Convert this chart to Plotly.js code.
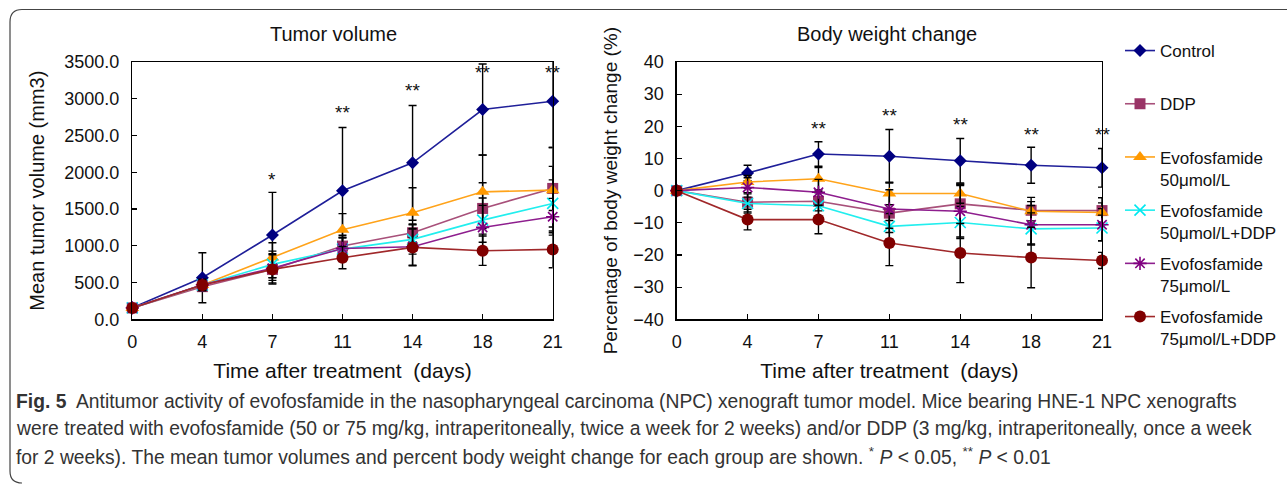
<!DOCTYPE html>
<html>
<head>
<meta charset="utf-8">
<script src="https://cdn.plot.ly/plotly-3.0.1.min.js"></script>
<style>html,body{margin:0;padding:0;background:#fff;}#chart{width:1287px;height:484px;}</style>
</head>
<body>
<div id="chart"></div>
<script>
// ---- data ----
const days = ['0', '4', '7', '11', '14', '18', '21'];
const seriesNames = ['Control', 'DDP', 'Evofosfamide<br>50μmol/L', 'Evofosfamide<br>50μmol/L+DDP', 'Evofosfamide<br>75μmol/L', 'Evofosfamide<br>75μmol/L+DDP'];

// Tumor volume (mm3)
const tvControl   = [158, 566, 1146, 1748, 2128, 2853, 2966];
const tvDDP       = [155, 444, 679, 996, 1177, 1508, 1780];
const tvEvo50     = [155, 466, 842, 1218, 1449, 1734, 1757];
const tvEvo50DDP  = [155, 466, 747, 955, 1087, 1349, 1576];
const tvEvo75     = [155, 470, 693, 964, 987, 1250, 1395];
const tvEvo75DDP  = [155, 466, 679, 838, 978, 933, 951];
// Tumor volume error (SD)
const tvErrControl  = [20, 340, 580, 860, 780, 620, 630];
const tvErrDDP      = [20, 60, 150, 120, 120, 350, 300];
const tvErrEvo50    = [20, 80, 200, 220, 340, 500, 580];
const tvErrEvo50DDP = [20, 70, 180, 150, 200, 300, 320];
const tvErrEvo75    = [20, 70, 200, 180, 250, 300, 250];
const tvErrEvo75DDP = [20, 60, 200, 150, 250, 200, 250];

// Body weight change (%)
const bwControl   = [0, 5.5, 11.4, 10.7, 9.3, 7.9, 7.1];
const bwDDP       = [0, -3.6, -3.3, -7.0, -4.1, -6.1, -6.2];
const bwEvo50     = [0, 2.7, 3.7, -0.9, -0.9, -6.4, -6.8];
const bwEvo50DDP  = [0, -4.0, -4.7, -11.1, -9.9, -11.9, -11.6];
const bwEvo75     = [0, 1.0, -0.5, -5.7, -6.4, -10.6, -10.6];
const bwEvo75DDP  = [0, -9.0, -9.0, -16.3, -19.4, -20.8, -21.7];
// Body weight error (SD)
const bwErrControl  = [0.5, 2.4, 3.8, 8.3, 6.9, 5.6, 6.0];
const bwErrDDP      = [0.5, 3.0, 3.0, 6.0, 6.0, 4.0, 4.0];
const bwErrEvo50    = [0.5, 2.0, 3.5, 3.5, 3.0, 3.0, 3.0];
const bwErrEvo50DDP = [0.5, 3.0, 4.0, 4.0, 5.0, 5.0, 4.0];
const bwErrEvo75    = [0.5, 3.0, 4.0, 6.0, 8.0, 6.0, 5.0];
const bwErrEvo75DDP = [0.5, 3.2, 4.4, 7.0, 9.2, 9.4, 2.5];

// significance marks
const tvSigDays = ['7', '11', '14', '18', '21'];
const tvSigY = [1960, 2866, 3170, 3410, 3410];
const tvSigLabel = ['*', '**', '**', '**', '**'];
const bwSigDays = ['7', '11', '14', '18', '21'];
const bwSigY = [20.6, 24.7, 21.9, 18.8, 18.8];
const bwSigLabel = ['**', '**', '**', '**', '**'];

const tvTicks = [0, 500, 1000, 1500, 2000, 2500, 3000, 3500];
const bwTicks = [-40, -30, -20, -10, 0, 10, 20, 30, 40];

const captionLines = [
  '<b>Fig. 5</b>  Antitumor activity of evofosfamide in the nasopharyngeal carcinoma (NPC) xenograft tumor model. Mice bearing HNE-1 NPC xenografts',
  'were treated with evofosfamide (50 or 75 mg/kg, intraperitoneally, twice a week for 2 weeks) and/or DDP (3 mg/kg, intraperitoneally, once a week',
  'for 2 weeks). The mean tumor volumes and percent body weight change for each group are shown. <sup>*</sup> <i>P</i> &lt; 0.05, <sup>**</sup> <i>P</i> &lt; 0.01'
];

// ---- styles ----
const styles = [
  {line: '#1F1F99', marker: '#000080', symbol: 'diamond', size: 10},
  {line: '#A8507A', marker: '#993366', symbol: 'square', size: 11},
  {line: '#FFA31A', marker: '#FF9900', symbol: 'triangle-up', size: 12},
  {line: '#22EEEE', marker: '#00E8F0', symbol: 'x-thin-open', size: 11},
  {line: '#8E1E8E', marker: '#800080', symbol: 'asterisk-open', size: 11},
  {line: '#A0282A', marker: '#800000', symbol: 'circle', size: 12}
];

const tvSeries = [tvControl, tvDDP, tvEvo50, tvEvo50DDP, tvEvo75, tvEvo75DDP];
const tvErrs = [tvErrControl, tvErrDDP, tvErrEvo50, tvErrEvo50DDP, tvErrEvo75, tvErrEvo75DDP];
const bwSeries = [bwControl, bwDDP, bwEvo50, bwEvo50DDP, bwEvo75, bwEvo75DDP];
const bwErrs = [bwErrControl, bwErrDDP, bwErrEvo50, bwErrEvo50DDP, bwErrEvo75, bwErrEvo75DDP];

function mkTrace(i, y, err, xa, ya, showLegend) {
  const s = styles[i];
  const thin = s.symbol.indexOf('open') >= 0;
  return {
    type: 'scatter', mode: 'lines+markers',
    x: days, y: y, xaxis: xa, yaxis: ya,
    name: showLegend ? (seriesNames[i] + (seriesNames[i].indexOf('<br>') < 0 ? '<br> ' : '')) : seriesNames[i],
    legendgroup: 'g' + i,
    showlegend: showLegend,
    cliponaxis: false,
    line: {color: s.line, width: 1.6},
    marker: {symbol: s.symbol, size: s.size, color: s.marker,
             line: {color: s.marker, width: thin ? 1.6 : 0}},
    error_y: {type: 'data', array: err, visible: true, color: '#000', thickness: 1.4, width: 4}
  };
}

const traces = [];
for (let i = 0; i < 6; i++) traces.push(mkTrace(i, tvSeries[i], tvErrs[i], 'x', 'y', false));
for (let i = 0; i < 6; i++) traces.push(mkTrace(i, bwSeries[i], bwErrs[i], 'x2', 'y2', true));

const W = 1287, H = 484;
const px = v => v / W, py = v => 1 - v / H;

const FONT = 'Liberation Sans, Arial, sans-serif';
const axisCommon = {
  showline: true, mirror: true, linecolor: '#000', linewidth: 1.4,
  ticks: 'inside', ticklen: 5, tickwidth: 1.2, tickcolor: '#000',
  showgrid: false, zeroline: false,
  tickfont: {family: FONT, size: 18, color: '#111'},
  automargin: false
};
const xCommon = Object.assign({}, axisCommon, {
  type: 'category', categoryorder: 'array', categoryarray: days, range: [0, 6],
  ticklabelstandoff: 6,
  title: {text: 'Time after treatment  (days)', font: {family: FONT, size: 21, color: '#111'}, standoff: 12}
});

const annotations = [];
annotations.push({xref: 'paper', yref: 'paper', x: px(333), y: py(34), text: 'Tumor volume', showarrow: false,
  font: {family: FONT, size: 20, color: '#111'}, xanchor: 'center', yanchor: 'middle'});
annotations.push({xref: 'paper', yref: 'paper', x: px(887), y: py(34), text: 'Body weight change', showarrow: false,
  font: {family: FONT, size: 20, color: '#111'}, xanchor: 'center', yanchor: 'middle'});
tvSigDays.forEach((d, k) => annotations.push({xref: 'x', yref: 'y', x: days.indexOf(d), y: tvSigY[k], text: tvSigLabel[k],
  showarrow: false, yshift: -4, font: {family: FONT, size: 19, color: '#111'}}));
bwSigDays.forEach((d, k) => annotations.push({xref: 'x2', yref: 'y2', x: days.indexOf(d), y: bwSigY[k], text: bwSigLabel[k],
  showarrow: false, yshift: -4, font: {family: FONT, size: 19, color: '#111'}}));
const captionY = [401, 428.5, 456];
captionLines.forEach((t, k) => annotations.push({xref: 'paper', yref: 'paper', x: px(14), y: py(captionY[k]),
  xanchor: 'left', yanchor: 'middle', align: 'left', text: t, showarrow: false,
  font: {family: FONT, size: 19.3, color: '#333'}}));

const borderPath = `M ${px(22)},${py(483)} Q ${px(10)},${py(483)} ${px(10)},${py(471)} L ${px(10)},${py(22)} Q ${px(10)},${py(9.5)} ${px(22)},${py(9.5)} L 1,${py(9.5)}`;

const layout = {
  width: W, height: H, autosize: false,
  margin: {l: 0, r: 0, t: 0, b: 0, pad: 0},
  paper_bgcolor: '#fff', plot_bgcolor: '#fff',
  font: {family: FONT, color: '#111'},
  showlegend: true,
  xaxis: Object.assign({}, xCommon, {domain: [px(132.3), px(552.7)], anchor: 'y'}),
  yaxis: Object.assign({}, axisCommon, {domain: [py(319.3), py(62)], anchor: 'x',
    range: [0, 3500], tickvals: tvTicks, tickformat: '.1f', ticklabelstandoff: 8,
    title: {text: 'Mean tumor volume (mm3)', font: {family: FONT, size: 20, color: '#111'}, standoff: 14}}),
  xaxis2: Object.assign({}, xCommon, {domain: [px(676.7), px(1102)], anchor: 'y2'}),
  yaxis2: Object.assign({}, axisCommon, {domain: [py(319.3), py(62)], anchor: 'x2',
    range: [-40, 40], tickvals: bwTicks, ticklabelstandoff: 8,
    title: {text: 'Percentage of body weight change (%)', font: {family: FONT, size: 19, color: '#111'}, standoff: 10}}),
  legend: {x: px(1120), y: py(33), xanchor: 'left', yanchor: 'top', valign: 'top',
    font: {family: FONT, size: 17, color: '#111'}, tracegroupgap: 6, traceorder: 'grouped',
    bgcolor: 'rgba(0,0,0,0)', borderwidth: 0},
  annotations: annotations,
  shapes: [{type: 'path', xref: 'paper', yref: 'paper', path: borderPath, line: {color: '#444', width: 1.2}}]
};

Plotly.newPlot('chart', traces, layout, {displayModeBar: false, staticPlot: true});
</script>
</body>
</html>
